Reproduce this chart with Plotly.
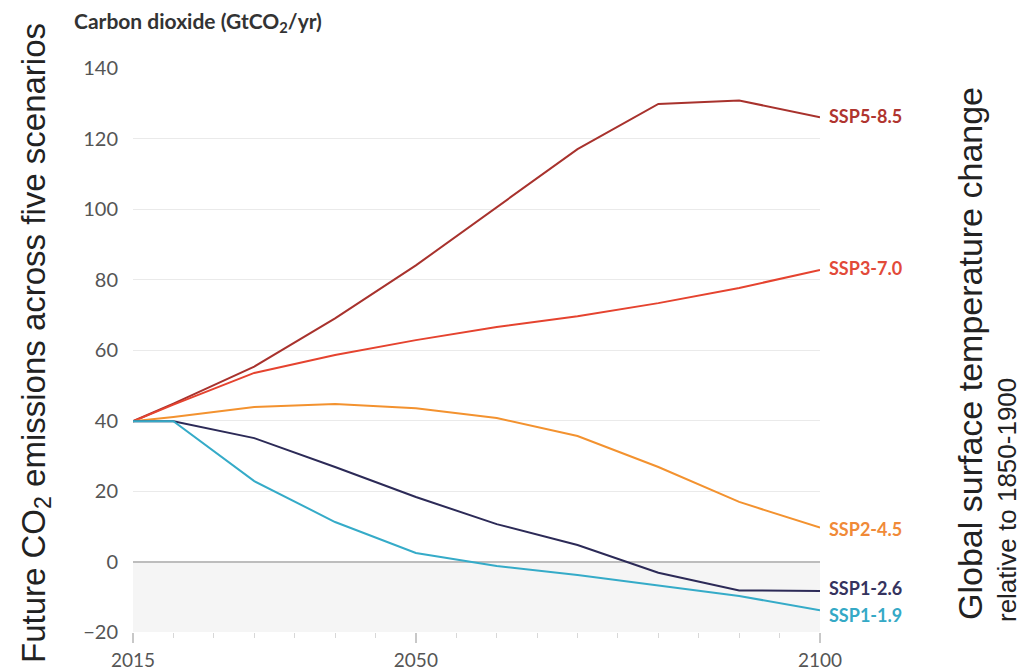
import plotly.graph_objects as go

# Emission pathways (GtCO2/yr) for the five SSP scenarios
years = [2015, 2020, 2030, 2040, 2050, 2060, 2070, 2080, 2090, 2100]
ssp585 = [39.8, 44.8, 55.3, 69.0, 84.0, 100.6, 117.0, 129.8, 130.8, 126.0]
ssp370 = [39.8, 44.5, 53.5, 58.6, 62.8, 66.5, 69.6, 73.3, 77.6, 82.7]
ssp245 = [39.8, 41.0, 43.8, 44.7, 43.5, 40.7, 35.6, 26.8, 16.9, 9.6]
ssp126 = [39.8, 39.8, 35.0, 26.8, 18.3, 10.6, 4.7, -3.2, -8.2, -8.4]
ssp119 = [39.8, 39.8, 22.8, 11.2, 2.4, -1.3, -3.8, -6.8, -9.8, -13.8]

scenario_names = ["SSP5-8.5", "SSP3-7.0", "SSP2-4.5", "SSP1-2.6", "SSP1-1.9"]
scenario_values = [ssp585, ssp370, ssp245, ssp126, ssp119]
line_colors = ["#a8322d", "#e5432f", "#f3922f", "#2c2a57", "#35abc8"]
label_colors = ["#b0352f", "#e24a39", "#f08a38", "#35335e", "#35a9c6"]
# small vertical nudges so the end labels don't collide
label_nudge = [1, 2, -1, 3, -5]

y_ticks = [-20, 0, 20, 40, 60, 80, 100, 120, 140]
x_major = [2015, 2050, 2100]

fig = go.Figure()

# light band for net-negative emissions
fig.add_shape(type="rect", xref="x", yref="y", x0=2015, x1=2100, y0=-20, y1=0,
              fillcolor="#f5f5f5", line_width=0, layer="below")

for name, vals, lc, tc, dy in zip(scenario_names, scenario_values, line_colors,
                                  label_colors, label_nudge):
    fig.add_trace(go.Scatter(x=years, y=vals, mode="lines", name=name,
                             line=dict(color=lc, width=2), showlegend=False))
    fig.add_annotation(x=years[-1], y=vals[-1], text=name, showarrow=False,
                       xanchor="left", yanchor="middle", xshift=7, yshift=dy,
                       font=dict(family="Lato", size=18, color=tc, weight="bold"))

fig.update_xaxes(range=[2015, 2100], tickvals=x_major, ticktext=[str(v) for v in x_major],
                 ticks="outside", ticklen=10, tickwidth=1.5, tickcolor="#c8c8c8",
                 ticklabelstandoff=1, automargin=False,
                 minor=dict(tick0=2015, dtick=5, ticks="outside", ticklen=5,
                            tickcolor="#d8d8d8", tickwidth=1, showgrid=False),
                 showgrid=False, zeroline=False, showline=False,
                 tickfont=dict(family="Lato", size=19, color="#555555"))

fig.update_yaxes(range=[-20, 140], tickvals=y_ticks, ticks="", ticklabelstandoff=14,
                 automargin=False,
                 showgrid=True, gridcolor="#eaeaea", gridwidth=1,
                 zeroline=True, zerolinecolor="#bdbdbd", zerolinewidth=2,
                 showline=False,
                 tickfont=dict(family="Lato", size=20, color="#555555"))

fig.add_annotation(xref="paper", yref="paper", x=-0.0888, y=1.0816, xanchor="left", yanchor="middle",
                   text="Carbon dioxide (GtCO<sub>2</sub>/yr)", showarrow=False,
                   font=dict(family="Lato", size=21, color="#333333", weight="bold"))

fig.add_annotation(xref="paper", yref="paper", x=-0.1415, y=0.512, xanchor="center", yanchor="middle",
                   text="Future CO<sub>2</sub> emissions across five scenarios", showarrow=False,
                   textangle=-90, font=dict(family="Liberation Sans", size=33, color="#222222"))

fig.add_annotation(xref="paper", yref="paper", x=1.2183, y=0.4947, xanchor="center", yanchor="middle",
                   text="Global surface temperature change", showarrow=False,
                   textangle=-90, font=dict(family="Liberation Sans", size=34, color="#222222"))

fig.add_annotation(xref="paper", yref="paper", x=1.2722, y=0.234, xanchor="center", yanchor="middle",
                   text="relative to 1850-1900", showarrow=False,
                   textangle=-90, font=dict(family="Liberation Sans", size=26, color="#222222"))

fig.update_layout(width=1021, height=672, margin=dict(l=133, r=201, t=68, b=40),
                  paper_bgcolor="#ffffff", plot_bgcolor="#ffffff")

fig.write_html("out.html")
